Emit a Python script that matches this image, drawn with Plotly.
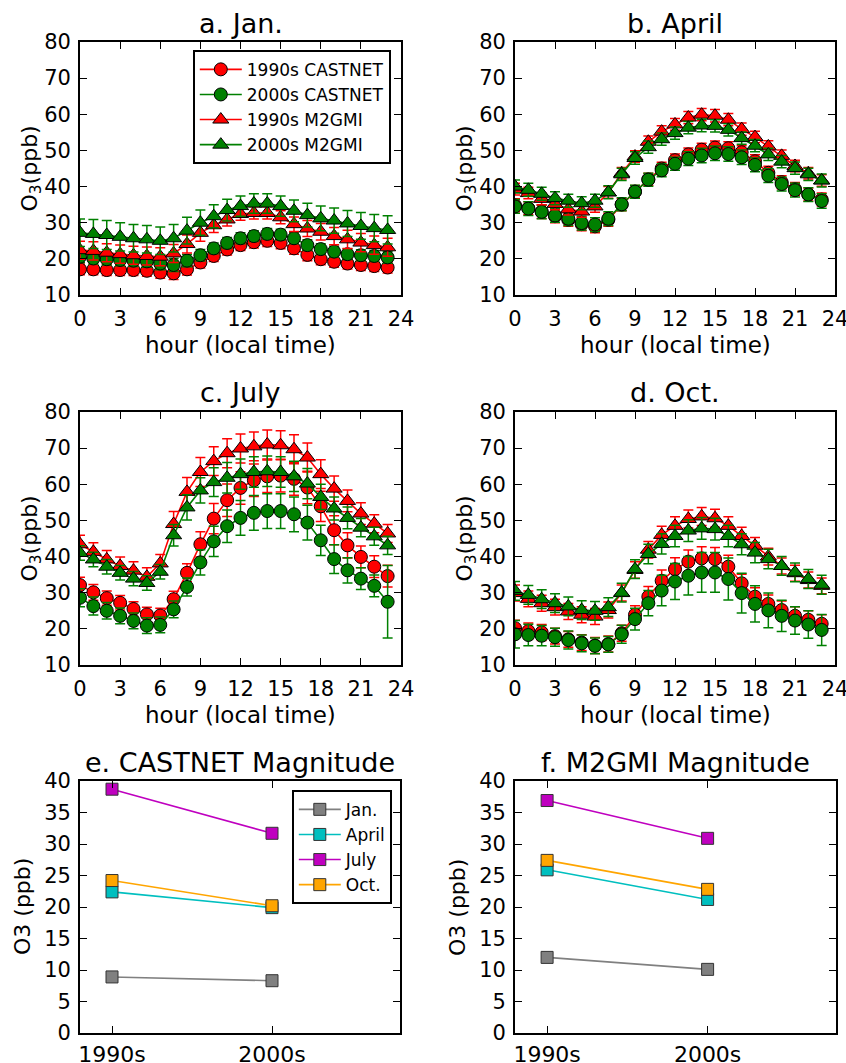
import plotly.graph_objects as go

# ---------------- data ----------------
hours = list(range(24))

# January
jan_c90 = [17.1,17.1,16.9,16.9,16.9,16.7,16.2,16.0,17.1,19.0,20.8,22.6,23.8,24.6,25.0,24.4,22.9,21.1,19.9,19.2,18.7,18.3,18.0,17.6]
jan_c00 = [20.6,20.1,19.9,19.7,19.5,19.3,18.7,18.3,19.5,21.0,22.9,24.4,25.7,26.3,26.9,26.7,25.7,23.8,22.7,22.0,21.3,21.0,20.8,20.4]
jan_m90 = [22.4,22.2,21.7,21.3,21.0,20.8,20.6,21.5,24.1,27.2,29.3,30.9,32.4,32.7,32.7,31.5,29.6,28.4,27.5,26.3,25.4,24.5,23.8,23.2]
jan_m00 = [27.2,26.9,26.6,26.1,25.7,25.4,25.0,25.7,27.8,30.0,31.8,33.5,34.6,35.3,35.3,34.6,33.3,32.1,31.2,30.6,29.8,29.1,28.5,28.0]
jan_c90_err = [1.5,1.5,1.5,1.5,1.5,1.5,1.6,1.7,1.6,1.5,1.5,1.5,1.5,1.6,1.6,1.6,1.6,1.6,1.5,1.5,1.5,1.5,1.5,1.5]
jan_c00_err = [1.6,1.6,1.6,1.6,1.6,1.6,1.7,1.8,1.7,1.6,1.5,1.5,1.5,1.5,1.5,1.5,1.5,1.5,1.5,1.5,1.5,1.5,1.5,1.6]
jan_m90_err = [2.5,2.5,2.5,2.5,2.5,2.5,2.5,2.5,2.5,2.3,2.0,1.8,1.7,1.7,1.7,1.8,2.0,2.2,2.3,2.4,2.5,2.5,2.5,2.5]
jan_m00_err = [3.8,4.0,4.0,3.9,3.8,3.8,3.8,3.8,3.7,3.5,3.2,3.0,2.8,2.7,2.7,2.8,3.0,3.3,3.4,3.5,3.6,3.7,3.8,3.9]

# April
apr_c90 = [34.8,34.0,33.0,31.8,30.8,29.6,29.0,30.8,35.0,38.6,42.0,45.0,47.3,48.9,50.2,50.8,50.6,49.5,47.0,43.8,41.2,39.3,37.8,36.4]
apr_c00 = [34.5,33.9,33.0,32.0,31.1,29.9,29.5,31.1,35.1,38.6,41.9,44.5,46.3,47.7,48.6,49.2,49.0,48.1,46.0,43.0,40.7,39.0,37.8,36.0]
apr_m90 = [39.3,38.2,36.6,35.2,33.7,33.1,34.5,38.4,43.7,48.3,52.4,55.2,57.2,59.1,59.9,59.6,58.5,55.9,53.7,51.1,48.5,45.7,43.7,41.7]
apr_m00 = [40.0,39.1,38.0,36.8,36.1,35.4,36.1,38.4,43.4,47.9,50.9,53.1,54.8,56.3,56.9,56.8,55.7,53.4,51.3,48.9,46.9,45.1,43.4,41.7]
apr_c90_err = [1.8,1.8,1.8,1.8,1.8,1.8,1.8,1.8,1.7,1.7,1.7,1.7,1.7,1.8,1.8,1.8,1.8,1.8,1.8,1.8,1.8,1.8,1.8,1.8]
apr_c00_err = [1.9,1.9,1.9,1.9,1.9,1.9,1.9,1.9,1.8,1.8,1.8,1.8,1.8,1.9,2.0,2.0,2.0,2.0,1.9,1.9,1.9,1.9,1.9,2.0]
apr_m90_err = [1.6,1.6,1.6,1.6,1.6,1.6,1.6,1.6,1.6,1.6,1.6,1.6,1.6,1.7,1.7,1.7,1.7,1.7,1.6,1.6,1.6,1.6,1.6,1.6]
apr_m00_err = [1.8,1.8,1.8,1.8,1.8,1.8,1.8,1.8,1.7,1.7,1.7,1.7,1.7,1.7,1.7,1.7,1.7,1.7,1.7,1.7,1.7,1.7,1.7,1.8]

# July
jul_c90 = [32.1,30.1,28.5,27.2,25.5,24.0,23.7,28.2,35.5,43.4,50.5,55.6,59.0,61.1,62.2,62.4,61.5,59.1,53.9,47.3,43.1,39.9,37.2,34.6]
jul_c00 = [28.6,26.3,25.0,23.6,22.2,20.9,21.1,25.4,31.6,38.4,44.2,48.4,50.7,52.1,52.6,52.6,51.7,49.4,44.5,39.3,36.2,33.9,31.9,27.5]
jul_m90 = [43.4,41.3,39.2,37.4,36.1,34.4,38.1,49.0,57.9,63.4,66.4,68.6,69.9,70.5,71.0,70.8,69.7,67.4,62.8,58.8,55.4,51.9,49.1,46.4]
jul_m00 = [41.0,39.2,37.2,35.5,33.9,32.7,35.8,45.9,53.6,58.3,60.6,61.8,62.8,63.4,63.6,63.4,62.2,60.2,56.5,53.3,50.7,48.0,45.6,43.1]
jul_c90_err = [2.2,2.2,2.0,2.0,2.0,2.0,2.0,2.2,2.5,3.5,4.2,4.5,4.5,4.5,4.5,4.5,4.5,4.5,4.2,4.0,3.5,3.0,3.0,3.0]
jul_c00_err = [2.5,2.5,2.3,2.2,2.2,2.2,2.2,2.3,2.5,3.5,4.2,4.5,4.8,4.8,4.8,4.8,4.8,4.8,4.2,4.0,3.5,3.0,3.0,10.0]
jul_m90_err = [2.5,2.5,2.5,2.5,2.5,2.5,2.5,3.5,4.0,4.0,4.0,4.0,4.0,4.0,4.0,4.0,4.0,4.0,4.0,3.5,3.0,3.0,2.5,2.5]
jul_m00_err = [2.0,2.0,2.0,2.0,2.0,2.0,2.0,3.0,3.5,3.5,4.0,4.2,4.2,4.2,4.2,4.2,4.2,4.2,3.5,3.2,3.0,2.5,2.5,2.5]

# October
oct_c90 = [20.2,19.4,19.0,18.0,17.1,16.2,15.4,15.8,18.8,23.9,28.9,33.3,36.5,38.6,39.5,39.3,37.2,32.6,28.9,26.9,25.2,23.6,22.5,21.4]
oct_c00 = [18.5,18.3,18.1,17.7,16.9,16.0,15.3,15.7,18.5,22.7,27.1,30.6,33.1,34.7,35.6,35.6,33.8,29.9,26.9,25.1,23.6,22.3,21.2,19.7]
oct_m90 = [29.9,28.3,27.1,26.0,24.8,23.9,23.4,25.2,29.9,36.3,41.9,46.0,48.5,50.4,51.1,50.6,48.5,45.7,43.0,40.0,37.4,35.4,33.5,31.9]
oct_m00 = [30.5,29.4,28.2,27.1,26.2,25.2,25.0,26.0,30.0,36.5,40.7,43.5,45.7,47.2,47.8,47.6,45.7,43.4,41.1,39.3,37.4,35.6,33.8,32.2]
oct_c90_err = [2.2,2.2,2.2,2.2,2.2,2.2,2.2,2.2,2.2,2.5,2.8,3.0,3.2,3.2,3.2,3.2,3.2,2.5,2.5,2.5,2.5,2.5,2.5,2.5]
oct_c00_err = [3.8,3.0,2.8,2.5,2.5,2.3,2.2,2.2,2.5,3.0,3.5,4.2,5.0,5.3,5.5,5.5,5.8,5.5,5.0,4.8,4.3,3.8,3.8,4.3]
oct_m90_err = [2.2,2.2,2.2,2.2,2.2,2.2,2.2,2.2,2.2,2.3,2.3,2.4,2.5,2.5,2.5,2.5,2.5,2.4,2.3,2.3,2.2,2.2,2.2,2.2]
oct_m00_err = [2.6,2.6,2.6,2.6,2.6,2.6,2.6,2.6,2.6,2.6,2.7,2.8,3.0,3.0,3.0,3.0,3.0,2.9,2.8,2.7,2.6,2.6,2.6,2.6]

# Magnitude panels
decades = ["1990s", "2000s"]
months = ["Jan.", "April", "July", "Oct."]
castnet_mag = {"Jan.": [8.9, 8.3], "April": [22.4, 19.9], "July": [38.7, 31.7], "Oct.": [24.2, 20.2]}
m2gmi_mag = {"Jan.": [12.0, 10.1], "April": [25.9, 21.2], "July": [36.9, 30.9], "Oct.": [27.4, 22.8]}

series_names = ["1990s CASTNET", "2000s CASTNET", "1990s M2GMI", "2000s M2GMI"]
panel_titles = ["a. Jan.", "b. April", "c. July", "d. Oct.", "e. CASTNET Magnitude", "f. M2GMI Magnitude"]

# ---------------- styling ----------------
W, H = 846, 1063
FONT = "DejaVu Sans"
RED, GREEN = "#FF0000", "#008000"
month_colors = {"Jan.": "#808080", "April": "#00BFBF", "July": "#BF00BF", "Oct.": "#FFA500"}

def xd(x0, x1):
    return [x0 / W, x1 / W]

def yd(top, bottom):
    return [1 - bottom / H, 1 - top / H]

# pixel boxes of each axes (left, right, top, bottom)
boxes = [
    (80, 401, 42, 295), (515, 835, 42, 295),
    (80, 401, 412, 665), (515, 835, 412, 665),
    (80, 400, 781, 1033), (515, 836, 781, 1033),
]

fig = go.Figure()

monthly = [
    (jan_c90, jan_c00, jan_m90, jan_m00, jan_c90_err, jan_c00_err, jan_m90_err, jan_m00_err),
    (apr_c90, apr_c00, apr_m90, apr_m00, apr_c90_err, apr_c00_err, apr_m90_err, apr_m00_err),
    (jul_c90, jul_c00, jul_m90, jul_m00, jul_c90_err, jul_c00_err, jul_m90_err, jul_m00_err),
    (oct_c90, oct_c00, oct_m90, oct_m00, oct_c90_err, oct_c00_err, oct_m90_err, oct_m00_err),
]
styles = [(RED, "circle", 13), (GREEN, "circle", 13), (RED, "triangle-up", 14), (GREEN, "triangle-up", 14)]

for p, data in enumerate(monthly):
    xa = "x" if p == 0 else f"x{p+1}"
    ya = "y" if p == 0 else f"y{p+1}"
    for s in range(4):
        col, sym, sz = styles[s]
        fig.add_trace(go.Scatter(
            x=hours, y=data[s], mode="lines+markers",
            name=series_names[s], xaxis=xa, yaxis=ya,
            showlegend=(p == 0), legend="legend",
            line=dict(color=col, width=1.6),
            marker=dict(symbol=sym, size=sz, color=col, line=dict(color="black", width=1)),
            error_y=dict(type="data", array=data[s + 4], color=col, thickness=1.5, width=5),
        ))

for k, mag in enumerate([castnet_mag, m2gmi_mag]):
    p = 4 + k
    for m in months:
        fig.add_trace(go.Scatter(
            x=[0, 1], y=mag[m], mode="lines+markers", name=m,
            xaxis=f"x{p+1}", yaxis=f"y{p+1}",
            showlegend=(k == 0), legend="legend2",
            line=dict(color=month_colors[m], width=1.6),
            marker=dict(symbol="square", size=12, color=month_colors[m], line=dict(color="#333333", width=1)),
        ))

axis_common = dict(showline=True, linecolor="black", linewidth=1.8, mirror="allticks",
                   ticks="inside", ticklen=7, tickwidth=1.3, tickcolor="black",
                   showgrid=False, zeroline=False, automargin=False, ticklabeloverflow="allow",
                   tickfont=dict(family=FONT, size=21, color="black"))

layout = dict(width=W, height=H, margin=dict(l=0, r=0, t=0, b=0, autoexpand=False),
              paper_bgcolor="white", plot_bgcolor="white",
              font=dict(family=FONT, color="black"))

for p, (l, r, t, b) in enumerate(boxes):
    xk = "xaxis" if p == 0 else f"xaxis{p+1}"
    yk = "yaxis" if p == 0 else f"yaxis{p+1}"
    xan = "y" if p == 0 else f"y{p+1}"
    yan = "x" if p == 0 else f"x{p+1}"
    if p < 4:
        xax = dict(axis_common, domain=xd(l, r), anchor=xan, range=[0, 24], tickmode="linear", tick0=0, dtick=3,
                   ticklabelstandoff=4)
        yax = dict(axis_common, domain=yd(t, b), anchor=yan, range=[10, 80], tickmode="linear", tick0=10, dtick=10,
                   ticklabelstandoff=3)
    else:
        xax = dict(axis_common, domain=xd(l, r), anchor=xan, range=[-0.2, 1.8],
                   tickmode="array", tickvals=[0, 1], ticktext=decades, ticklabelstandoff=1,
                   tickfont=dict(family=FONT, size=22, color="black"))
        yax = dict(axis_common, domain=yd(t, b), anchor=yan, range=[0, 40], tickmode="linear", tick0=0, dtick=5,
                   ticklabelstandoff=3)
    layout[xk] = xax
    layout[yk] = yax

layout["legend"] = dict(x=391 / W, y=1 - 50 / H, xanchor="right", yanchor="top", itemwidth=42,
                        bgcolor="white", bordercolor="black", borderwidth=1.8,
                        font=dict(family=FONT, size=17, color="black"), tracegroupgap=0)
layout["legend2"] = dict(x=392 / W, y=1 - 790 / H, xanchor="right", yanchor="top", itemwidth=42,
                         bgcolor="white", bordercolor="black", borderwidth=1.8,
                         font=dict(family=FONT, size=17, color="black"), tracegroupgap=0)

annotations = []
title_y = [23, 23, 392, 392, 762, 762]
for p, (l, r, t, b) in enumerate(boxes):
    annotations.append(dict(text=panel_titles[p], x=(l + r) / 2 / W, y=1 - title_y[p] / H,
                            xref="paper", yref="paper", xanchor="center", yanchor="middle",
                            showarrow=False, font=dict(family=FONT, size=27, color="black")))
    if p < 4:
        annotations.append(dict(text="hour (local time)", x=(l + r) / 2 / W, y=1 - (b + 50) / H,
                                xref="paper", yref="paper", xanchor="center", yanchor="middle",
                                showarrow=False, font=dict(family=FONT, size=23, color="black")))
        annotations.append(dict(text="O<sub>3</sub>(ppb)", x=(l - 49) / W, y=1 - (t + b) / 2 / H,
                                xref="paper", yref="paper", xanchor="center", yanchor="middle",
                                textangle=-90, showarrow=False, font=dict(family=FONT, size=22, color="black")))
    else:
        annotations.append(dict(text="O3 (ppb)", x=(l - 58) / W, y=1 - (t + b) / 2 / H,
                                xref="paper", yref="paper", xanchor="center", yanchor="middle",
                                textangle=-90, showarrow=False, font=dict(family=FONT, size=22, color="black")))
layout["annotations"] = annotations

fig.update_layout(**layout)
fig.write_html("out.html")
